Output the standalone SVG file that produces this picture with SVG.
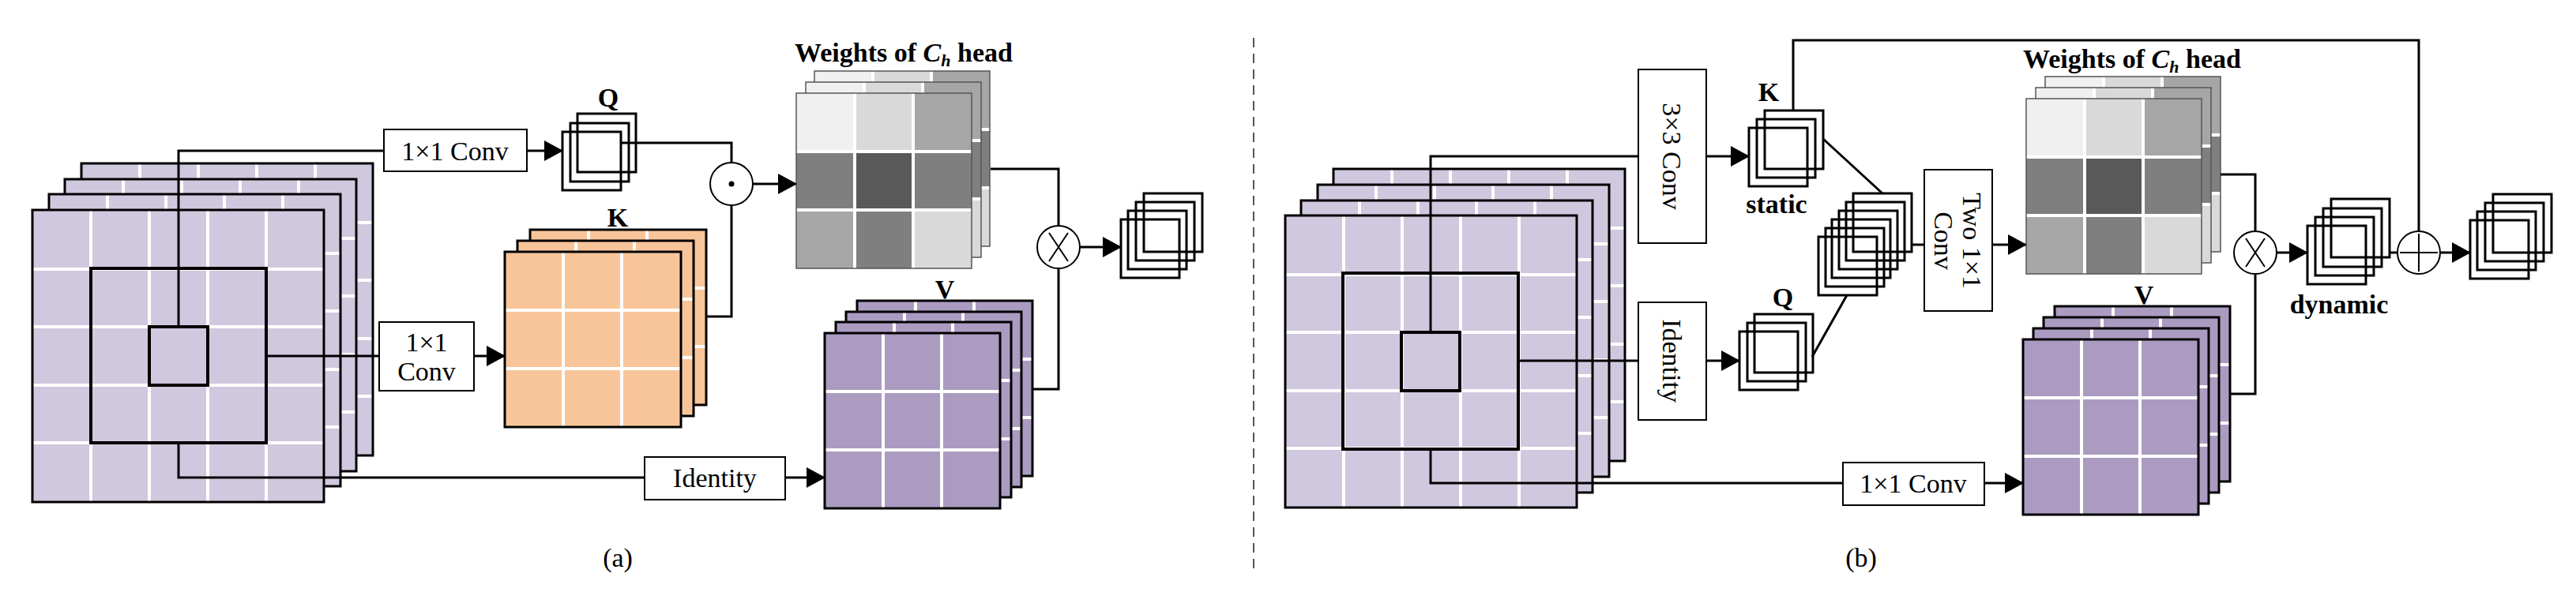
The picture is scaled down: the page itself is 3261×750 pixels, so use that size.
<svg xmlns="http://www.w3.org/2000/svg" width="3261" height="750" viewBox="0 0 3261 750">
<style>
.t{font-family:"Liberation Serif",serif;font-size:34px;fill:#000}
.b{font-weight:bold}
.box{fill:#fff;stroke:#000;stroke-width:2}
.ln{fill:none;stroke:#000;stroke-width:3}
.g{stroke:#fff;stroke-width:4}
.ed{fill:none;stroke:#000;stroke-width:3}
.cir{fill:#fff;stroke:#000;stroke-width:2}
</style>
<defs>
<marker id="ar" markerUnits="userSpaceOnUse" markerWidth="24" markerHeight="26" refX="22" refY="13" orient="auto"><path d="M0,0 L24,13 L0,26Z" fill="#000"/></marker>
<g id="inL"><rect width="369" height="370" fill="#d0c8de"/><path class="g" d="M74,0V370M148,0V370M222,0V370M296,0V370M0,75H369M0,148H369M0,222H369M0,295H369"/><rect width="369" height="370" class="ed"/></g>
<g id="kL"><rect width="223" height="222" fill="#f8c59a"/><path class="g" d="M74,0V222M148,0V222M0,74H223M0,148H223"/><rect width="223" height="222" class="ed"/></g>
<g id="vL"><rect width="222" height="222" fill="#ab9bc1"/><path class="g" d="M74,0V222M148,0V222M0,74H222M0,148H222"/><rect width="222" height="222" class="ed"/></g>
<g id="wL"><rect x="0" y="0" width="74" height="74" fill="#f0f0f0"/><rect x="74" y="0" width="74" height="74" fill="#d9d9d9"/><rect x="148" y="0" width="74" height="74" fill="#a6a6a6"/><rect x="0" y="74" width="74" height="74" fill="#7f7f7f"/><rect x="74" y="74" width="74" height="74" fill="#595959"/><rect x="148" y="74" width="74" height="74" fill="#7f7f7f"/><rect x="0" y="148" width="74" height="74" fill="#a6a6a6"/><rect x="74" y="148" width="74" height="74" fill="#7f7f7f"/><rect x="148" y="148" width="74" height="74" fill="#d9d9d9"/><path class="g" d="M74,0V222M148,0V222M0,74H222M0,148H222"/><rect width="222" height="222" fill="none" stroke="#555" stroke-width="1.5"/></g>
<rect id="pC" width="74" height="74" fill="#bfb0d3" class="ed"/>
<rect id="yC" width="74" height="74" fill="#ffc000" class="ed"/>
</defs>

<line x1="1587" y1="48" x2="1587" y2="722" stroke="#555" stroke-width="2" stroke-dasharray="12,8"/>

<!-- Panel a -->
<g id="a_input"><use href="#inL" x="103" y="207"/><use href="#inL" x="82" y="227"/><use href="#inL" x="62" y="246"/><use href="#inL" x="41" y="266"/>
<rect x="115" y="340" width="222" height="221" fill="none" stroke="#000" stroke-width="4"/><rect x="189" y="414" width="74" height="74" fill="none" stroke="#000" stroke-width="4"/></g>
<g id="a_q"><use href="#pC" x="731" y="144"/><use href="#pC" x="722" y="156"/><use href="#pC" x="712" y="167"/><text class="t b" x="770" y="135" text-anchor="middle">Q</text></g>
<g id="a_k"><use href="#kL" x="671" y="291"/><use href="#kL" x="655" y="305"/><use href="#kL" x="639" y="319"/><text class="t b" x="782" y="287" text-anchor="middle">K</text></g>
<g id="a_w"><use href="#wL" x="1031" y="90"/><use href="#wL" x="1020" y="104"/><use href="#wL" x="1008" y="118"/><text class="t b" x="1144" y="78" text-anchor="middle">Weights of <tspan font-style="italic">C</tspan><tspan font-style="italic" font-size="22" dy="6">h</tspan><tspan dy="-6"> head</tspan></text></g>
<g id="a_v"><use href="#vL" x="1085" y="381"/><use href="#vL" x="1071" y="395"/><use href="#vL" x="1058" y="408"/><use href="#vL" x="1044" y="422"/><text class="t b" x="1196" y="378" text-anchor="middle">V</text></g>
<g id="a_out"><use href="#pC" x="1448" y="245"/><use href="#pC" x="1438" y="256"/><use href="#pC" x="1428" y="267"/><use href="#pC" x="1419" y="278"/></g>
<g id="a_conv1"><rect class="box" x="486" y="164" width="181" height="53"/><text class="t" x="576" y="203" text-anchor="middle">1×1 Conv</text></g>
<g id="a_conv2"><rect class="box" x="480" y="408" width="120" height="87"/><text class="t" x="540" y="445" text-anchor="middle">1×1</text><text class="t" x="540" y="482" text-anchor="middle">Conv</text></g>
<g id="a_id"><rect class="box" x="816" y="579" width="178" height="54"/><text class="t" x="905" y="617" text-anchor="middle">Identity</text></g>
<g id="a_dot"><circle class="cir" cx="926" cy="233" r="27"/><circle cx="926" cy="233" r="3.5" fill="#000"/></g>
<g id="a_mul"><circle class="cir" cx="1340" cy="313" r="27"/><path d="M1328,295L1352,331M1352,295L1328,331" stroke="#000" stroke-width="2"/></g>
<text class="t" x="782" y="718" text-anchor="middle">(a)</text>

<!-- Panel b -->
<g id="b_input"><use href="#inL" x="1688" y="214"/><use href="#inL" x="1668" y="234"/><use href="#inL" x="1647" y="254"/><use href="#inL" x="1627" y="273"/>
<rect x="1700" y="346" width="222" height="223" fill="none" stroke="#000" stroke-width="4"/><rect x="1774" y="421" width="74" height="74" fill="none" stroke="#000" stroke-width="4"/></g>
<g id="b_k"><use href="#yC" x="2234" y="140"/><use href="#yC" x="2224" y="151"/><use href="#yC" x="2214" y="162"/><text class="t b" x="2239" y="128" text-anchor="middle">K</text><text class="t b" x="2249" y="270" text-anchor="middle">static</text></g>
<g id="b_q"><use href="#pC" x="2221" y="398"/><use href="#pC" x="2212" y="409"/><use href="#pC" x="2202" y="420"/><text class="t b" x="2257" y="388" text-anchor="middle">Q</text></g>
<g id="b_qk"><use href="#yC" x="2346" y="245"/><use href="#yC" x="2337" y="256"/><use href="#yC" x="2328" y="267"/><use href="#pC" x="2319" y="278"/><use href="#pC" x="2311" y="289"/><use href="#pC" x="2302" y="300"/></g>
<g id="b_w"><use href="#wL" x="2589" y="97"/><use href="#wL" x="2577" y="111"/><use href="#wL" x="2565" y="125"/><text class="t b" x="2699" y="86" text-anchor="middle">Weights of <tspan font-style="italic">C</tspan><tspan font-style="italic" font-size="22" dy="6">h</tspan><tspan dy="-6"> head</tspan></text></g>
<g id="b_v"><use href="#vL" x="2601" y="388"/><use href="#vL" x="2587" y="402"/><use href="#vL" x="2574" y="416"/><use href="#vL" x="2561" y="430"/><text class="t b" x="2714" y="385" text-anchor="middle">V</text></g>
<g id="b_dyn"><use href="#pC" x="2951" y="252"/><use href="#pC" x="2941" y="264"/><use href="#pC" x="2931" y="275"/><use href="#pC" x="2921" y="286"/><text class="t b" x="2961" y="397" text-anchor="middle">dynamic</text></g>
<g id="b_out"><use href="#pC" x="3156" y="246"/><use href="#pC" x="3146" y="257"/><use href="#pC" x="3136" y="268"/><use href="#pC" x="3127" y="279"/></g>
<g id="b_conv3"><rect class="box" x="2074" y="88" width="86" height="220"/><text class="t" transform="translate(2117,198) rotate(90)" x="0" y="12" text-anchor="middle">3×3 Conv</text></g>
<g id="b_id"><rect class="box" x="2074" y="383" width="86" height="149"/><text class="t" transform="translate(2117,457) rotate(90)" x="0" y="12" text-anchor="middle">Identity</text></g>
<g id="b_two"><rect class="box" x="2436" y="215" width="86" height="179"/><text class="t" transform="translate(2479,305) rotate(90)" text-anchor="middle"><tspan x="0" y="-6">Two 1×1</tspan><tspan x="0" y="30">Conv</tspan></text></g>
<g id="b_conv1"><rect class="box" x="2333" y="586" width="179" height="54"/><text class="t" x="2422" y="624" text-anchor="middle">1×1 Conv</text></g>
<g id="b_mul"><circle class="cir" cx="2855" cy="320" r="27"/><path d="M2843,302L2867,338M2867,302L2843,338" stroke="#000" stroke-width="2"/></g>
<g id="b_add"><circle class="cir" cx="3062" cy="320" r="27"/><path d="M3062,296V344M3038,320H3086" stroke="#000" stroke-width="2"/></g>
<text class="t" x="2356" y="718" text-anchor="middle">(b)</text>

<g id="connectors">
<path class="ln" d="M226,414V191H486"/><path class="ln" d="M667,191H711" marker-end="url(#ar)"/>
<path class="ln" d="M337,451H480"/><path class="ln" d="M600,451H638" marker-end="url(#ar)"/>
<path class="ln" d="M226,561V605H816"/><path class="ln" d="M994,605H1043" marker-end="url(#ar)"/>
<path class="ln" d="M786,181H926V206"/><path class="ln" d="M894,401H926V260"/>
<path class="ln" d="M953,233H1007" marker-end="url(#ar)"/>
<path class="ln" d="M1254,214H1340V286"/><path class="ln" d="M1307,493H1340V340"/>
<path class="ln" d="M1367,313H1418" marker-end="url(#ar)"/>
<path class="ln" d="M1811,421V198H2074"/><path class="ln" d="M2160,198H2213" marker-end="url(#ar)"/>
<path class="ln" d="M1922,457H2074"/><path class="ln" d="M2160,457H2201" marker-end="url(#ar)"/>
<path class="ln" d="M1811,569V612H2333"/><path class="ln" d="M2512,612H2560" marker-end="url(#ar)"/>
<path class="ln" d="M2308,176L2383,245" stroke-width="2"/><path class="ln" d="M2294,452L2338,374" stroke-width="2"/>
<path class="ln" d="M2420,310H2436"/><path class="ln" d="M2522,310H2564" marker-end="url(#ar)"/>
<path class="ln" d="M2811,221H2855V293"/><path class="ln" d="M2823,499H2855V347"/>
<path class="ln" d="M2882,320H2920" marker-end="url(#ar)"/>
<path class="ln" d="M3025,320H3035"/><path class="ln" d="M3089,320H3126" marker-end="url(#ar)"/>
<path class="ln" d="M2270,140V51H3062V293"/>
</g>
</svg>
